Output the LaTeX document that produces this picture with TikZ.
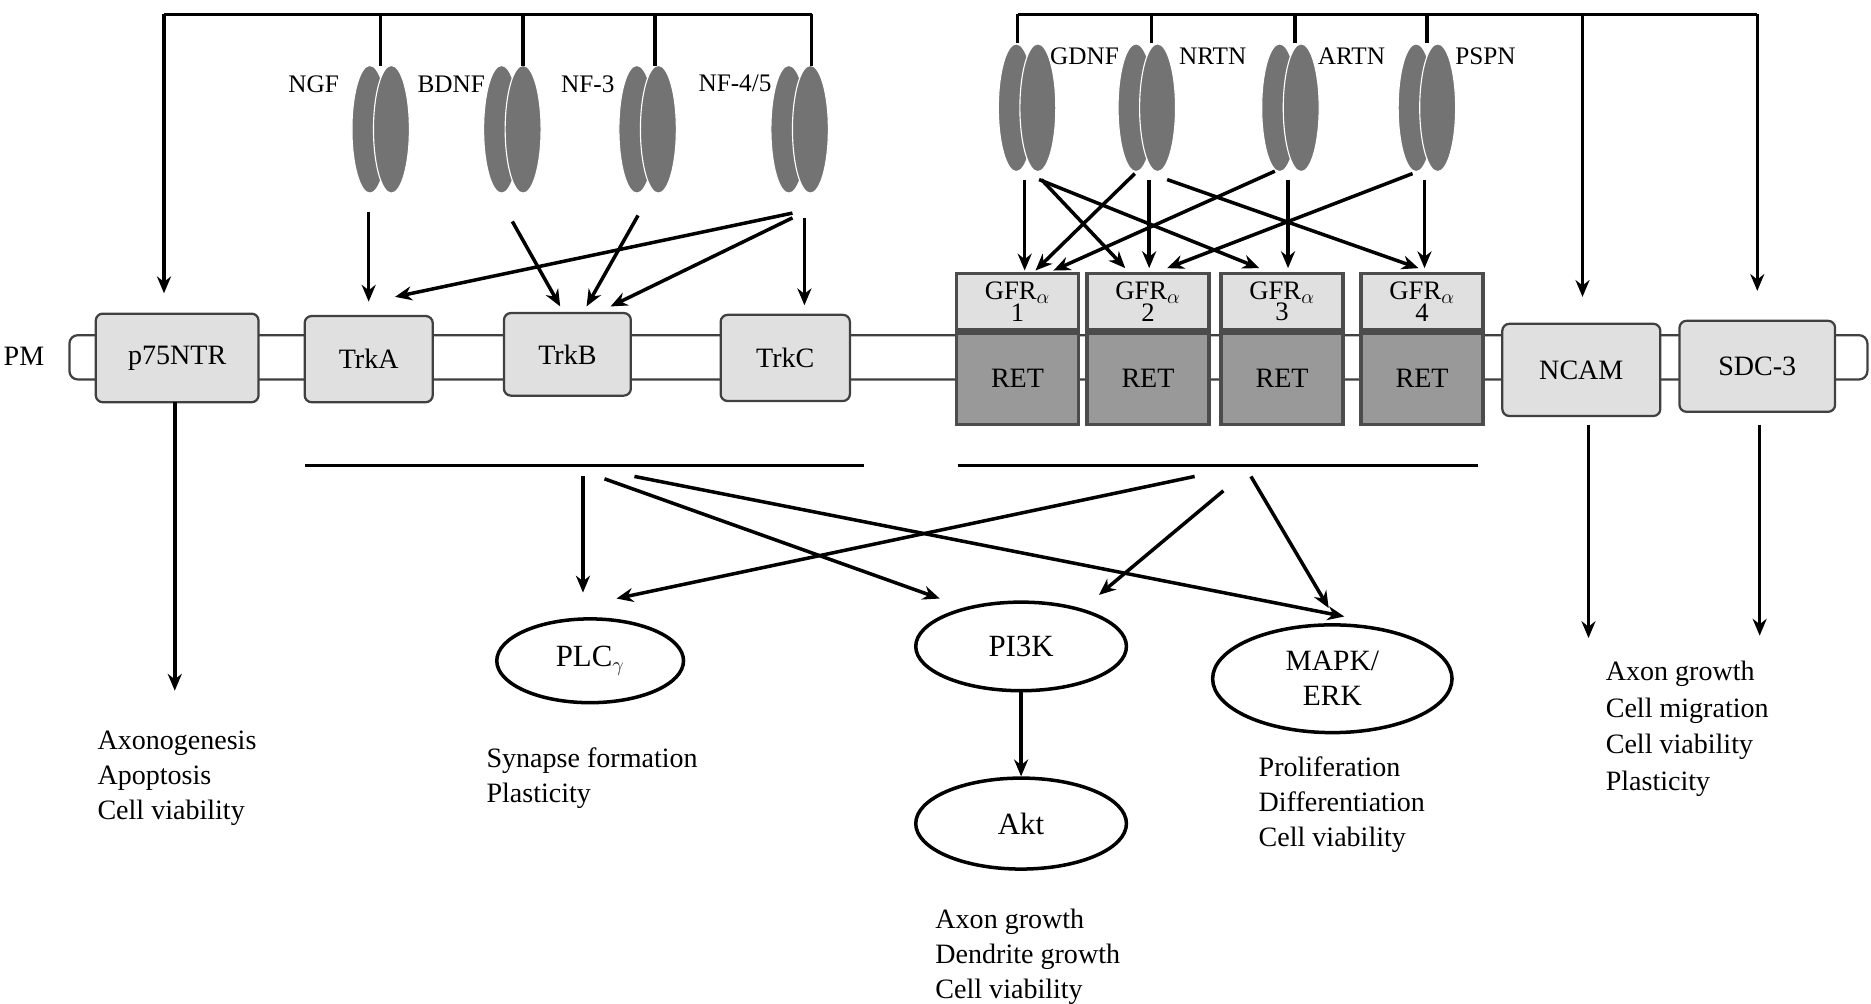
\documentclass[tikz,border=0pt]{standalone}
\usepackage{fontspec}
\setmainfont{Liberation Serif}
\usetikzlibrary{arrows.meta,calc,shapes.geometric}
\begin{document}
\begin{tikzpicture}[x=0.03cm,y=-0.03cm,
  line width=2.5pt,
  arr/.style={-{Stealth[length=12pt,width=10pt]}},
  rbox/.style={draw=black!75,line width=1.6pt,rounded corners=5pt,fill=black!12,font=\fontsize{20}{22}\selectfont},
  gfr/.style={draw=black!70,line width=2.5pt,fill=black!12,minimum width=3.06cm,minimum height=1.41cm,inner sep=0pt,align=center,font=\fontsize{19}{15}\selectfont},
  ret/.style={draw=black!70,line width=2.5pt,fill=black!40,minimum width=3.06cm,minimum height=2.28cm,inner sep=0pt,font=\fontsize{20}{22}\selectfont},
  lig/.style={ellipse,fill=black!55,draw=white,line width=0.8pt,minimum width=0.9cm,minimum height=3.2cm,inner sep=0pt},
  liglab/.style={font=\fontsize{18}{20}\selectfont},
  ell/.style={draw,ellipse,line width=2.5pt,fill=white,font=\fontsize{22}{26}\selectfont,align=center,inner sep=0pt},
  txt/.style={align=left,anchor=north west,font=\fontsize{20}{25}\selectfont,inner sep=0pt}
]
\useasboundingbox (0,0) rectangle (1563,838);
% membrane
\draw[line width=1.6pt,black!75,rounded corners=6pt] (58,280) rectangle (1560,317);
\node[font=\fontsize{20}{22}\selectfont] (pm) at (20,298) {PM};
% receptors
\node[rbox,minimum width=4.08cm,minimum height=2.22cm] (p75) at (148,299) {p75NTR};
\node[rbox,minimum width=3.21cm,minimum height=2.16cm] (trka) at (308,300) {TrkA};
\node[rbox,minimum width=3.18cm,minimum height=2.07cm] (trkb) at (474,296) {TrkB};
\node[rbox,minimum width=3.24cm,minimum height=2.16cm] (trkc) at (656,299) {TrkC};
\node[rbox,minimum width=3.96cm,minimum height=2.31cm] (ncam) at (1321,309) {NCAM};
\node[rbox,minimum width=3.9cm,minimum height=2.28cm] (sdc) at (1468,306) {SDC-3};
\foreach \n/\x/\k in {1/850/1,2/959/2,3/1071/3,4/1188/4}{
  \node[gfr] (gfr\n) at (\x,252) {GFR$_\alpha$\\[-1pt]\k};
  \node[ret,anchor=north] (ret\n) at (gfr\n.south) {RET};
}
% ligands
\foreach \n/\x/\y in {ngf/318/108,bdnf/428/108,nf3/541/108,nf45/668/108,gdnf/858/90,nrtn/958/90,artn/1078/90,pspn/1192/90}{
  \node[lig] (\n L) at (\x-9,\y) {};
  \node[lig] (\n R) at (\x+9,\y) {};
  \coordinate (\n) at (\x,\y);
}
\node[liglab] at (262,70) {NGF};
\node[liglab] at (377,70) {BDNF};
\node[liglab] at (491,70) {NF-3};
\node[liglab] at (614,70) {NF-4/5};
\node[liglab] at (906,47) {GDNF};
\node[liglab] at (1013,47) {NRTN};
\node[liglab] at (1129,47) {ARTN};
\node[liglab] at (1241,47) {PSPN};
% top brackets
\draw (137,12) -- (678,12);
\draw[arr] (137,12) -- (137,245);
\foreach \x/\y in {318/55,437/55,547/55,678/55} \draw (\x,12) -- (\x,\y);
\draw (850,12) -- (1468,12);
\foreach \x in {850,962,1082,1192} \draw (\x,12) -- (\x,36);
\draw[arr] (1322,12) -- (1322,248);
\draw[arr] (1468,12) -- (1468,243);
% Trk ligand arrows
\draw[arr] (308,177) -- (308,252);
\draw[arr] (428,185) -- (468,256);
\draw[arr] (533,180) -- (490,256);
\draw[arr] (662,178) -- (330,248);
\draw[arr] (662,182) -- (510,256);
\draw[arr] (672,182) -- (672,255);
% GFL arrows
\draw[arr] (856,150) -- (856,226);
\draw[arr] (870,150) -- (940,224);
\draw[arr] (868,150) -- (1052,224);
\draw[arr] (948,145) -- (865,226);
\draw[arr] (960,150) -- (960,224);
\draw[arr] (975,150) -- (1185,224);
\draw[arr] (1065,143) -- (880,226);
\draw[arr] (1076,150) -- (1076,224);
\draw[arr] (1180,145) -- (975,224);
\draw[arr] (1190,150) -- (1190,224);
% lines
\draw (255,389) -- (722,389);
\draw (800,389) -- (1235,389);
% pathways
\node[ell,minimum width=4.68cm,minimum height=2.1cm] (plc) at (493,552) {PLC$_\gamma$};
\node[ell,minimum width=5.28cm,minimum height=2.22cm] (pi3k) at (853,540) {PI3K};
\node[ell,minimum width=6cm,minimum height=2.7cm,font=\fontsize{21}{25}\selectfont] (mapk) at (1113,567) {MAPK/\\ERK};
\node[ell,minimum width=5.28cm,minimum height=2.28cm] (akt) at (853,688) {Akt};
\draw[arr] (487,398) -- (487,495);
\draw[arr] (505,400) -- (785,500);
\draw[arr] (530,398) -- (1123,515);
\draw[arr] (998,398) -- (515,500);
\draw[arr] (1022,410) -- (918,497);
\draw[arr] (1045,398) -- (1110,508);
\draw[arr] (pi3k) -- (akt);
\draw[arr] (146,336) -- (146,577);
\draw[arr] (1327,355) -- (1327,533);
\draw[arr] (1470,355) -- (1470,531);
% texts
\node[txt] (t1) at (80,609) {Axonogenesis\\Apoptosis\\Cell viability};
\node[txt] (t2) at (405,623) {Synapse formation\\Plasticity};
\node[txt] (t3) at (780,758) {Axon growth\\Dendrite growth\\Cell viability};
\node[txt] (t4) at (1050,631) {Proliferation\\Differentiation\\Cell viability};
\node[txt,font=\fontsize{20}{26}\selectfont] (t5) at (1340,551) {Axon growth\\Cell migration\\Cell viability\\Plasticity};
\end{tikzpicture}
\end{document}
